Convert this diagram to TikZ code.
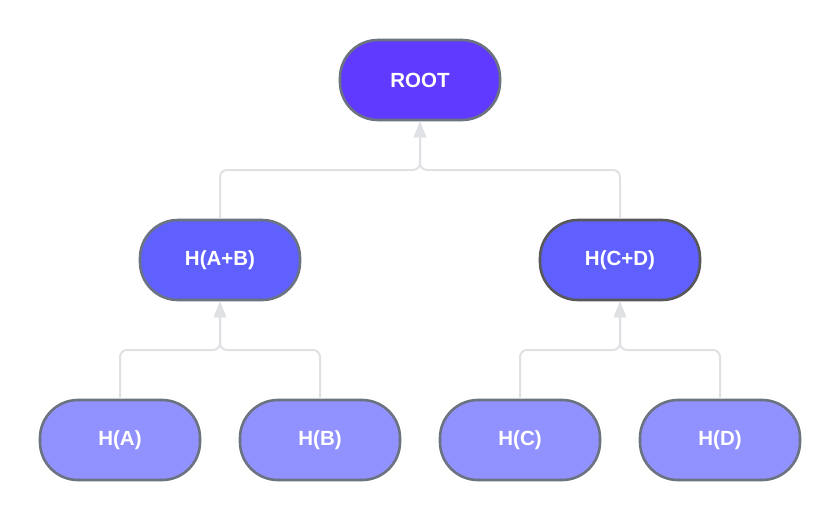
\documentclass[tikz,border=0pt]{standalone}
\usepackage{fontspec}
\setmainfont{Liberation Sans}
\usetikzlibrary{arrows.meta,calc}
\definecolor{rootc}{HTML}{603BFF}
\definecolor{midc}{HTML}{6060FF}
\definecolor{leafc}{HTML}{9191FF}
\definecolor{bord}{HTML}{6B7280}
\definecolor{bordd}{HTML}{585858}
\definecolor{conn}{HTML}{DFE1E5}
\tikzset{
  hnode/.style={draw=bord, line width=2.6pt, rounded corners=38pt, minimum width=160pt, minimum height=80pt,
    inner sep=0pt, text=white, font=\bfseries\fontsize{20.5}{24}\selectfont},
  connline/.style={draw=conn, line width=2pt, rounded corners=7pt, -{Triangle[length=16pt,width=12pt]}}
}
\begin{document}
\begin{tikzpicture}[x=1pt,y=-1pt]
\useasboundingbox (0,0) rectangle (840,520);
\node[hnode, fill=rootc] (root) at (420,80) {ROOT};
\node[hnode, fill=midc] (hab) at (220,260) {H(A+B)};
\node[hnode, fill=midc, draw=bordd] (hcd) at (620,260) {H(C+D)};
\node[hnode, fill=leafc] (ha) at (120,440) {H(A)};
\node[hnode, fill=leafc] (hb) at (320,440) {H(B)};
\node[hnode, fill=leafc] (hc) at (520,440) {H(C)};
\node[hnode, fill=leafc] (hd) at (720,440) {H(D)};
\coordinate (j0) at (420,170);
\coordinate (j1) at (220,350);
\coordinate (j2) at (620,350);
\draw[connline] (hab.north) |- (j0) -- (root.south);
\draw[connline] (hcd.north) |- (j0) -- (root.south);
\draw[connline] (ha.north) |- (j1) -- (hab.south);
\draw[connline] (hb.north) |- (j1) -- (hab.south);
\draw[connline] (hc.north) |- (j2) -- (hcd.south);
\draw[connline] (hd.north) |- (j2) -- (hcd.south);
\end{tikzpicture}
\end{document}
